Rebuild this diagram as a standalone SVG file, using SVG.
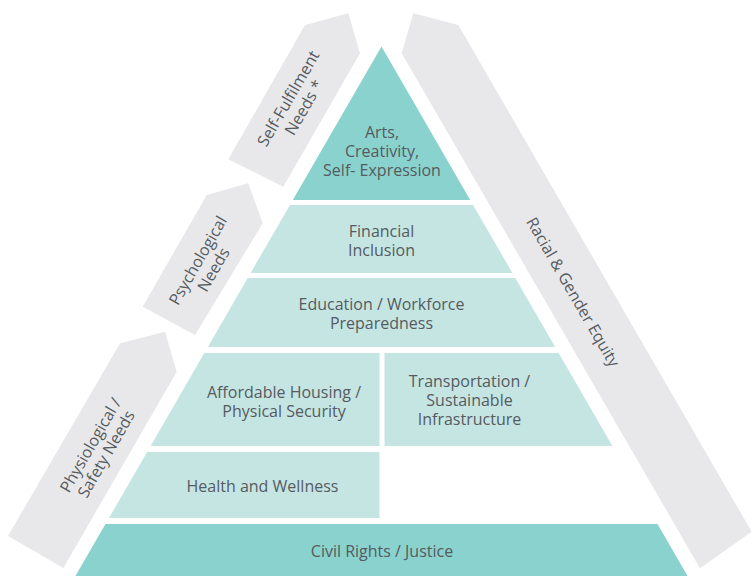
<svg xmlns="http://www.w3.org/2000/svg" width="753" height="576" viewBox="0 0 753 576">
<style>
.dark{fill:#8AD2CE}
.light{fill:#C5E5E3}
.gray{fill:#E8E8EA}
text{font-family:"Open Sans","Noto Sans","Liberation Sans",sans-serif;font-size:16px;fill:#555B5F;text-anchor:middle}
</style>
<rect width="753" height="576" fill="#FFFFFF"/>
<g id="side-bands">
<g id="self-fulfilment-needs">
<polygon class="gray" points="348.3,13.3 360,53.3 283.3,186.7 228.3,159.3 305,25"/>
<g transform="translate(296,103) rotate(-60)"><text x="0" y="-3.3">Self-Fulfilment</text><text x="0" y="14.7">Needs *</text></g>
</g>
<g id="psychological-needs">
<polygon class="gray" points="248.3,183.3 262.7,223.3 195,335 142.7,306.7 206.7,195"/>
<g transform="translate(205.6,265) rotate(-60)"><text x="0" y="-3.3">Psychological</text><text x="0" y="14.7">Needs</text></g>
</g>
<g id="physiological-safety-needs">
<polygon class="gray" points="165,331.7 176.7,371.7 63.4,568 8,536 120,343.3"/>
<g transform="translate(98.3,449.5) rotate(-60)"><text x="0" y="-3.3">Physiological /</text><text x="0" y="14.7">Safety Needs</text></g>
</g>
<g id="racial-gender-equity">
<polygon class="gray" points="413.3,13.3 458.3,25 751.7,531.7 700,568.3 401.7,53.3"/>
<g transform="translate(573,292) rotate(60)"><text x="0" y="5.6">Racial &amp; Gender Equity</text></g>
</g>
</g>
<g id="pyramid">
<g id="arts">
<polygon class="dark" points="381.5,46.5 470.2,200 292.8,200"/>
<text x="382" y="137.5">Arts,</text>
<text x="382" y="156.5">Creativity,</text>
<text x="382" y="175.5">Self- Expression</text>
</g>
<g id="financial-inclusion">
<polygon class="light" points="289.9,205 473.1,205 512.4,273 250.6,273"/>
<text x="381.5" y="237">Financial</text>
<text x="381.5" y="256">Inclusion</text>
</g>
<g id="education">
<polygon class="light" points="247.7,278 515.3,278 555.2,347 207.8,347"/>
<text x="381.5" y="309.5">Education / Workforce</text>
<text x="381.5" y="328.5">Preparedness</text>
</g>
<g id="housing">
<polygon class="light" points="204.3,353 379.5,353 379.5,446 150.6,446"/>
<text x="284" y="397.5">Affordable Housing /</text>
<text x="284" y="416.5">Physical Security</text>
</g>
<g id="transportation">
<polygon class="light" points="384.5,353 558.7,353 612.4,446 384.5,446"/>
<text x="469.5" y="387">Transportation /</text>
<text x="469.5" y="406">Sustainable</text>
<text x="469.5" y="425">Infrastructure</text>
</g>
<g id="health">
<polygon class="light" points="147.1,452 379.5,452 379.5,518 109,518"/>
<text x="262.5" y="492">Health and Wellness</text>
</g>
<g id="civil-rights">
<polygon class="dark" points="105.5,524 657.5,524 687.6,576 75.4,576"/>
<text x="382" y="557">Civil Rights / Justice</text>
</g>
</g>
<g id="connectors"></g>
</svg>
